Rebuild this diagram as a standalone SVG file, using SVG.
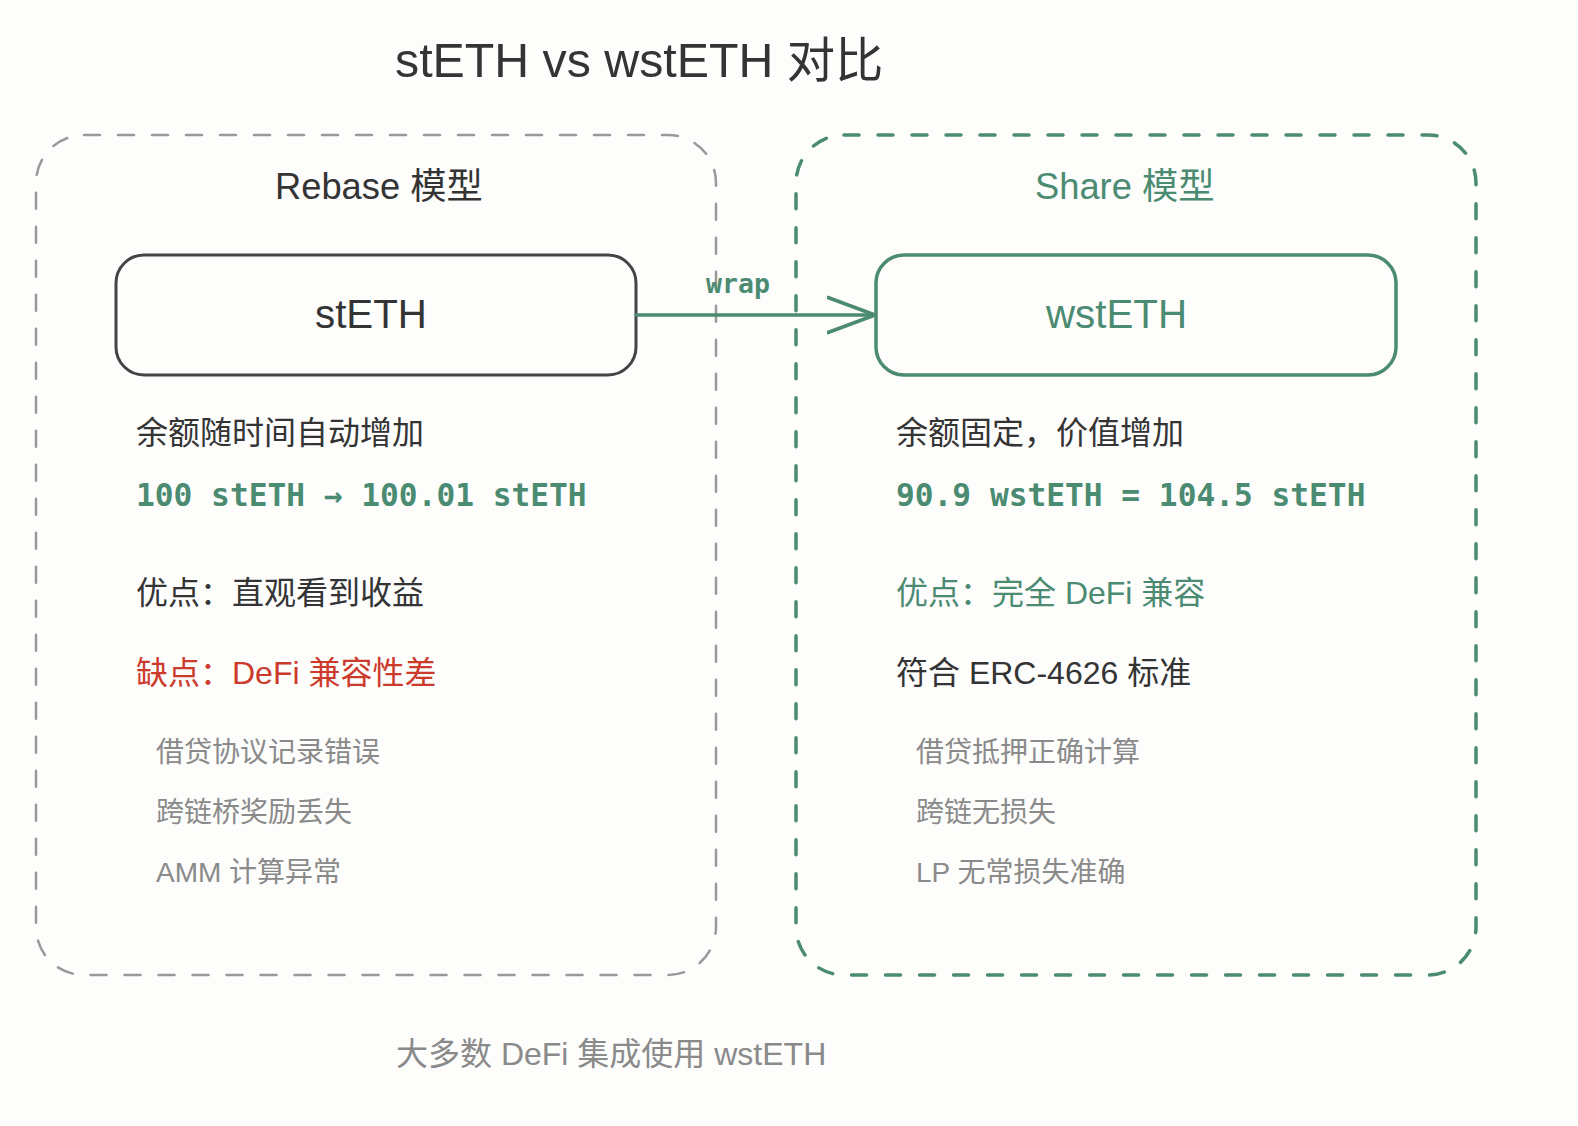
<svg xmlns="http://www.w3.org/2000/svg" width="1578" height="1126" viewBox="0 0 1578 1126">
  <style>
    .sans { font-family: "Liberation Sans", "Noto Sans CJK SC", sans-serif; }
    .mono { font-family: "DejaVu Sans Mono", "Liberation Mono", monospace; font-weight: bold; }
    .dark { fill: #343434; }
    .green { fill: #4b8b72; }
    .red { fill: #cc3a2c; }
    .gray { fill: #8a8a8a; }
    .body { font-size: 32px; }
    .small { font-size: 28px; }
    .code { font-size: 31.2px; }
    .container-gray { fill: none; stroke: #999999; stroke-width: 2.5; stroke-dasharray: 16 18; stroke-linecap: round; }
    .container-green { fill: none; stroke: #4b8b72; stroke-width: 3.5; stroke-dasharray: 15 19; stroke-linecap: round; }
    .node-dark { fill: #fdfdfc; stroke: #444444; stroke-width: 3; }
    .node-green { fill: #fdfdfc; stroke: #4b8b72; stroke-width: 3.5; }
    .edge { fill: none; stroke: #4b8b72; stroke-width: 3.5; stroke-linecap: round; }
  </style>
  <defs>
    <marker id="open-arrow" viewBox="0 0 50 40" refX="48" refY="20" markerWidth="50" markerHeight="40" markerUnits="userSpaceOnUse" orient="auto">
      <path d="M1,2.5 L48,20 L1,37.5" fill="none" stroke="#4b8b72" stroke-width="3.5" stroke-linecap="round" stroke-linejoin="round"/>
    </marker>
  </defs>
  <rect x="0" y="0" width="1578" height="1126" fill="#fdfdfc"/>

  <g id="title">
    <text class="sans dark" x="395" y="77" font-size="48.3">stETH vs wstETH 对比</text>
  </g>

  <g id="rebase-model">
    <rect class="container-gray" x="36" y="135" width="680" height="840" rx="48" ry="48"/>
    <text class="sans dark" x="275" y="199" font-size="36.3">Rebase 模型</text>
  </g>

  <g id="share-model">
    <rect class="container-green" x="796" y="135" width="680" height="840" rx="48" ry="48"/>
    <text class="sans green" x="1035" y="199" font-size="36.3">Share 模型</text>
  </g>

  <g id="steth">
    <rect class="node-dark" x="116" y="255" width="520" height="120" rx="28" ry="28"/>
    <text class="sans dark" x="315" y="328" font-size="40.3">stETH</text>
  </g>

  <g id="wsteth">
    <rect class="node-green" x="876" y="255" width="520" height="120" rx="28" ry="28"/>
    <text class="sans green" x="1046" y="328" font-size="40.3">wstETH</text>
  </g>

  <g id="connectors">
    <line class="edge" x1="636" y1="315" x2="875" y2="315" marker-end="url(#open-arrow)"/>
    <text class="mono green" x="738" y="293" font-size="26.5" text-anchor="middle">wrap</text>
  </g>

  <g id="steth-details">
    <text class="sans dark body" x="136" y="444">余额随时间自动增加</text>
    <text class="mono green code" x="136" y="506">100 stETH → 100.01 stETH</text>
    <text class="sans dark body" x="136" y="604">优点：直观看到收益</text>
    <text class="sans red body" x="136" y="684">缺点：DeFi 兼容性差</text>
    <text class="sans gray small" x="156" y="762">借贷协议记录错误</text>
    <text class="sans gray small" x="156" y="822">跨链桥奖励丢失</text>
    <text class="sans gray small" x="156" y="882">AMM 计算异常</text>
  </g>

  <g id="wsteth-details">
    <text class="sans dark body" x="896" y="444">余额固定，价值增加</text>
    <text class="mono green code" x="896" y="506">90.9 wstETH = 104.5 stETH</text>
    <text class="sans green body" x="896" y="604">优点：完全 DeFi 兼容</text>
    <text class="sans dark body" x="896" y="684">符合 ERC-4626 标准</text>
    <text class="sans gray small" x="916" y="762">借贷抵押正确计算</text>
    <text class="sans gray small" x="916" y="822">跨链无损失</text>
    <text class="sans gray small" x="916" y="882">LP 无常损失准确</text>
  </g>

  <g id="footer">
    <text class="sans gray" x="396" y="1065" font-size="32">大多数 DeFi 集成使用 wstETH</text>
  </g>
</svg>
